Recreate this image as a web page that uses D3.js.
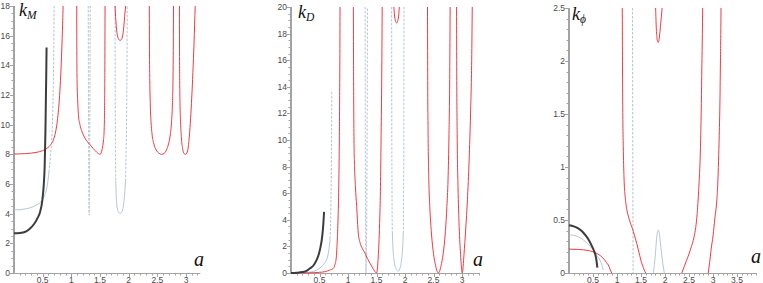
<!DOCTYPE html>
<html><head><meta charset="utf-8">
<script src="https://cdn.jsdelivr.net/npm/d3@7"></script>
<style>body{margin:0;background:#fff}svg{display:block}</style>
</head><body><svg id="c" width="763" height="283"></svg>
<script>
// ---------- DATA (a, k) ----------
// Panel 1: k_M
const kM_xTicks = [0.5, 1, 1.5, 2, 2.5, 3];
const kM_yTicks = [0, 2, 4, 6, 8, 10, 12, 14, 16, 18];
const kM_black = [[0,2.68],[0.1,2.7],[0.2,2.78],[0.28,3.0],[0.35,3.3],[0.41,3.7],[0.454,4.1],[0.494,4.9],[0.52,6],[0.535,7.2],[0.548,9.5],[0.556,11.7],[0.563,13.5],[0.568,15.2]];
const kM_gray1 = [[0,4.25],[0.1,4.27],[0.2,4.32],[0.3,4.42],[0.4,4.6],[0.48,4.85],[0.54,5.3],[0.58,5.9],[0.61,6.8]];
const kM_gray1d = [[0.61,6.8],[0.635,7.8],[0.655,8.8],[0.67,10],[0.682,12],[0.692,14.5],[0.7,18]];
const kM_gray2d = [[1.295,18],[1.298,13],[1.302,9],[1.306,6],[1.31,3.9],[1.316,6],[1.321,9],[1.326,13],[1.33,18]];
const kM_gray3dL = [[1.763,18],[1.766,12],[1.77,8],[1.775,6.2]];
const kM_gray3 = [[1.775,6.2],[1.783,5.2],[1.80,4.4],[1.825,4.1],[1.85,4.03],[1.875,4.1],[1.90,4.35],[1.92,4.9],[1.935,5.6],[1.945,6.2]];
const kM_gray3dR = [[1.945,6.2],[1.955,8],[1.965,11],[1.971,14],[1.975,18]];
const kM_red1 = [[0,8.02],[0.2,8.05],[0.4,8.14],[0.5,8.25],[0.58,8.42],[0.64,8.65],[0.69,9.0],[0.73,9.6],[0.76,10.4],[0.785,11.4],[0.805,12.6],[0.825,14.2],[0.84,15.8],[0.85,17],[0.856,18]];
const kM_red2 = [[1.094,18],[1.096,15],[1.1,13],[1.11,11.7],[1.125,10.6],[1.15,10],[1.18,9.6],[1.21,9.3],[1.26,8.95],[1.326,8.65],[1.38,8.4],[1.44,8.15],[1.48,8.03],[1.5,8.0],[1.525,8.15],[1.545,8.5],[1.562,9],[1.574,9.8],[1.581,11.5],[1.585,14],[1.588,18]];
const kM_red3 = [[1.763,18],[1.772,17.3],[1.785,16.6],[1.80,16.1],[1.82,15.8],[1.85,15.68],[1.88,15.8],[1.9,16.1],[1.915,16.6],[1.93,17.3],[1.948,18]];
const kM_red4 = [[2.36,18],[2.363,15],[2.368,13],[2.376,11.5],[2.39,10.2],[2.41,9.3],[2.44,8.7],[2.48,8.3],[2.53,8.07],[2.577,8.0],[2.62,8.07],[2.66,8.3],[2.695,8.7],[2.725,9.3],[2.748,10.2],[2.764,11.5],[2.773,13],[2.778,15],[2.782,18]];
const kM_red5 = [[2.885,18],[2.887,15],[2.89,13],[2.895,11.5],[2.905,10.2],[2.92,9.1],[2.94,8.4],[2.965,8.06],[2.99,8.0],[3.015,8.1],[3.04,8.5],[3.06,9.3],[3.08,10.4],[3.1,11.8],[3.12,13.5],[3.14,15.5],[3.16,18]];

// Panel 2: k_D
const kD_xTicks = [0.5, 1, 1.5, 2, 2.5, 3];
const kD_yTicks = [0, 2, 4, 6, 8, 10, 12, 14, 16, 18, 20];
const kD_black = [[0,0],[0.1,0.02],[0.2,0.07],[0.28,0.18],[0.333,0.35],[0.4,0.6],[0.45,0.98],[0.49,1.45],[0.52,2.0],[0.54,2.5],[0.56,3.3],[0.572,4.0],[0.58,4.6]];
const kD_gray1 = [[0,0],[0.2,0.02],[0.35,0.08],[0.45,0.22],[0.53,0.45],[0.59,0.75],[0.626,1.0],[0.655,1.5],[0.675,2.1],[0.686,2.6]];
const kD_gray1d = [[0.686,2.6],[0.696,4],[0.703,6],[0.708,8],[0.711,10],[0.714,12],[0.716,13.7]];
const kD_gray2d = [[1.30,20],[1.302,12],[1.307,5],[1.312,1.5],[1.316,0],[1.322,1.5],[1.33,5],[1.336,12],[1.34,20]];
const kD_gray3dL = [[1.766,20],[1.768,12],[1.772,6],[1.778,3]];
const kD_gray3 = [[1.778,3],[1.79,1.8],[1.81,0.9],[1.84,0.35],[1.88,0.15],[1.915,0.4],[1.94,1.0],[1.96,2.0],[1.97,3]];
const kD_gray3dR = [[1.97,3],[1.976,6],[1.98,12],[1.982,20]];
const kD_red1 = [[0,0],[0.3,0.01],[0.5,0.05],[0.6,0.1],[0.68,0.22],[0.742,0.35],[0.77,0.6],[0.795,1.2],[0.812,2.48],[0.825,4],[0.836,6],[0.843,8],[0.848,10],[0.853,13],[0.857,16],[0.86,20]];
const kD_red2 = [[1.094,20],[1.097,16],[1.1,13],[1.105,10],[1.115,8],[1.13,6.5],[1.152,5],[1.18,3.0],[1.21,2.3],[1.25,1.85],[1.3,1.48],[1.34,1.1],[1.386,0.73],[1.43,0.4],[1.474,0.1],[1.5,0],[1.515,0.3],[1.53,1.2],[1.545,2.5],[1.558,4.2],[1.57,6.5],[1.58,10],[1.59,14],[1.6,20]];
const kD_red3 = [[1.805,20],[1.815,19.4],[1.83,19.0],[1.854,18.8],[1.875,19.0],[1.89,19.4],[1.9,20]];
const kD_red4 = [[2.395,20],[2.398,15],[2.405,10.5],[2.418,7],[2.435,5],[2.46,3.2],[2.49,1.8],[2.53,0.7],[2.585,0],[2.64,0.7],[2.68,1.8],[2.71,3.2],[2.735,5],[2.755,7],[2.772,10.5],[2.785,15],[2.792,20]];
const kD_red5 = [[2.905,20],[2.908,15],[2.915,10.5],[2.93,6.5],[2.95,3.5],[2.975,1.4],[3.005,0],[3.035,1.4],[3.065,3.3],[3.095,5.5],[3.125,8.5],[3.15,12],[3.17,16],[3.18,20]];

// Panel 3: k_phi
const kP_xTicks = [0.5, 1, 1.5, 2, 2.5, 3, 3.5];
const kP_yTicks = [0, 0.5, 1, 1.5, 2, 2.5];
const kP_black = [[0,0.45],[0.1,0.44],[0.2,0.418],[0.3,0.38],[0.4,0.32],[0.47,0.26],[0.52,0.21],[0.55,0.17],[0.575,0.11],[0.59,0.05]];
const kP_gray1 = [[0,0.36],[0.1,0.355],[0.2,0.34],[0.3,0.312],[0.4,0.27],[0.5,0.22],[0.58,0.165],[0.646,0.12],[0.69,0.07],[0.715,0.03]];
const kP_gray2d = [[1.322,2.5],[1.335,0]];
const kP_gray3 = [[1.757,0],[1.78,0.08],[1.80,0.18],[1.82,0.3],[1.84,0.38],[1.86,0.405],[1.88,0.38],[1.9,0.3],[1.93,0.18],[1.96,0.07],[1.986,0]];
const kP_red1 = [[0,0.225],[0.2,0.222],[0.4,0.212],[0.5,0.2],[0.6,0.18],[0.7,0.145],[0.78,0.1],[0.83,0.065],[0.86,0.03],[0.88,0.01],[0.89,0]];
const kP_red2 = [[1.11,2.5],[1.113,2.1],[1.117,1.75],[1.122,1.45],[1.13,1.2],[1.146,0.9],[1.17,0.72],[1.2,0.61],[1.24,0.53],[1.28,0.47],[1.32,0.42],[1.36,0.36],[1.41,0.28],[1.46,0.19],[1.51,0.1],[1.55,0.05],[1.58,0.015],[1.6,0]];
const kP_red3 = [[1.805,2.5],[1.815,2.35],[1.83,2.23],[1.845,2.185],[1.86,2.175],[1.875,2.2],[1.895,2.28],[1.92,2.4],[1.94,2.5]];
const kP_red4 = [[2.35,0],[2.4,0.06],[2.45,0.12],[2.5,0.18],[2.55,0.25],[2.6,0.33],[2.64,0.43],[2.67,0.56],[2.69,0.69],[2.71,0.85],[2.73,1.05],[2.745,1.3],[2.757,1.6],[2.768,1.95],[2.778,2.25],[2.785,2.5]];
const kP_red5 = [[2.9,0],[2.93,0.1],[2.96,0.22],[3.0,0.35],[3.04,0.52],[3.08,0.69],[3.1,0.85],[3.115,1.05],[3.13,1.3],[3.145,1.63],[3.155,2.0],[3.162,2.25],[3.167,2.5]];

// ---------- STYLES ----------
const STY = {
  red:   {stroke:"#ec3b43", width:1, dash:null},
  gray:  {stroke:"#b7c6d3", width:1, dash:null},
  grayd: {stroke:"#b3c4d3", width:1, dash:"2.5,1.5"},
  black: {stroke:"#3c3c3c", width:2, dash:null}
};

// ---------- LAYOUT ----------
const panels = [
  {x0:14, x1:186, xd:[0,3], xEnd:3.25, yd:[0,18], yTop:6, xTicks:kM_xTicks, yTicks:kM_yTicks, xMinor:0.1, yMinor:0.5,
   label:"k", sub:"M", lx:19, ly:16, ax:194, ay:266,
   series:[["gray",kM_gray1],["grayd",kM_gray1d],["grayd",kM_gray2d],["grayd",kM_gray3dL],["gray",kM_gray3],["grayd",kM_gray3dR],
           ["red",kM_red1],["red",kM_red2],["red",kM_red3],["red",kM_red4],["red",kM_red5],["black",kM_black]]},
  {x0:291, x1:462, xd:[0,3], xEnd:3.3, yd:[0,20], yTop:7, xTicks:kD_xTicks, yTicks:kD_yTicks, xMinor:0.1, yMinor:0.5,
   label:"k", sub:"D", lx:298, ly:18, ax:473, ay:266,
   series:[["gray",kD_gray1],["grayd",kD_gray1d],["grayd",kD_gray2d],["grayd",kD_gray3dL],["gray",kD_gray3],["grayd",kD_gray3dR],
           ["red",kD_red1],["red",kD_red2],["red",kD_red3],["red",kD_red4],["red",kD_red5],["black",kD_black]]},
  {x0:569, x1:737, xd:[0,3.5], xEnd:3.9, yd:[0,2.5], yTop:8, xTicks:kP_xTicks, yTicks:kP_yTicks, xMinor:0.1, yMinor:0.1,
   label:"k", sub:"\u03d5", lx:572, ly:20, ax:751, ay:263,
   series:[["gray",kP_gray1],["grayd",kP_gray2d],["gray",kP_gray3],
           ["red",kP_red1],["red",kP_red2],["red",kP_red3],["red",kP_red4],["red",kP_red5],["black",kP_black]]}
];
const yBottom = 273;

const svg = d3.select("#c");
panels.forEach(p => {
  const x = d3.scaleLinear().domain(p.xd).range([p.x0, p.x1]);
  const y = d3.scaleLinear().domain(p.yd).range([yBottom, p.yTop]);
  const g = svg.append("g");
  const axisCol = "#a3a3a3";
  g.append("line").attr("x1", x(0)).attr("x2", x(p.xEnd)).attr("y1", yBottom+0.5).attr("y2", yBottom+0.5)
    .attr("stroke", axisCol).attr("stroke-width", 1);
  const nx = Math.floor(p.xEnd / p.xMinor + 1e-6);
  for (let i = 1; i <= nx; i++) {
    const v = i * p.xMinor;
    const major = Math.abs(v*2 - Math.round(v*2)) < 1e-6;
    g.append("line").attr("x1", Math.round(x(v))+0.5).attr("x2", Math.round(x(v))+0.5)
      .attr("y1", yBottom).attr("y2", yBottom + (major ? 4 : 2.5))
      .attr("stroke", axisCol).attr("stroke-width", 1);
  }
  p.xTicks.forEach(t => {
    g.append("text").attr("x", x(t)).attr("y", yBottom + 9.5).attr("text-anchor", "middle")
      .attr("font-family", "Liberation Sans, Arial, sans-serif").attr("font-size", 8.5).attr("fill", "#4a4a4a").text(t);
  });
  g.append("line").attr("x1", x(0)).attr("x2", x(0)).attr("y1", y(p.yd[1])).attr("y2", yBottom+1)
    .attr("stroke", axisCol).attr("stroke-width", 2);
  const ny = Math.floor(p.yd[1] / p.yMinor + 1e-6);
  for (let i = 0; i <= ny; i++) {
    const v = i * p.yMinor;
    const major = p.yTicks.some(t => Math.abs(t - v) < 1e-6);
    g.append("line").attr("x1", x(0) - (major ? 4 : 2.5)).attr("x2", x(0))
      .attr("y1", Math.round(y(v))+0.5).attr("y2", Math.round(y(v))+0.5)
      .attr("stroke", axisCol).attr("stroke-width", 1);
  }
  p.yTicks.forEach(t => {
    g.append("text").attr("x", x(0) - 4).attr("y", y(t) + 3).attr("text-anchor", "end")
      .attr("font-family", "Liberation Sans, Arial, sans-serif").attr("font-size", 8.5).attr("fill", "#4a4a4a").text(t);
  });
  const line = d3.line().x(d => x(d[0])).y(d => y(d[1])).curve(d3.curveMonotoneX);
  p.series.forEach(([s, data]) => {
    const st = STY[s];
    g.append("path").attr("d", line(data)).attr("fill", "none")
      .attr("stroke", st.stroke).attr("stroke-width", st.width)
      .attr("stroke-dasharray", st.dash).attr("stroke-linejoin", "round");
  });
  const t = g.append("text").attr("x", p.lx).attr("y", p.ly)
    .attr("font-family", "Liberation Serif, DejaVu Serif, serif").attr("font-style", "italic").attr("fill", "#111");
  t.append("tspan").attr("font-size", 18).text(p.label);
  t.append("tspan").attr("font-size", 11.5).attr("dy", 3).text(p.sub);
  g.append("text").attr("x", p.ax).attr("y", p.ay)
    .attr("font-family", "Liberation Serif, DejaVu Serif, serif").attr("font-style", "italic")
    .attr("font-size", 20).attr("fill", "#111").text("a");
});
</script></body></html>
